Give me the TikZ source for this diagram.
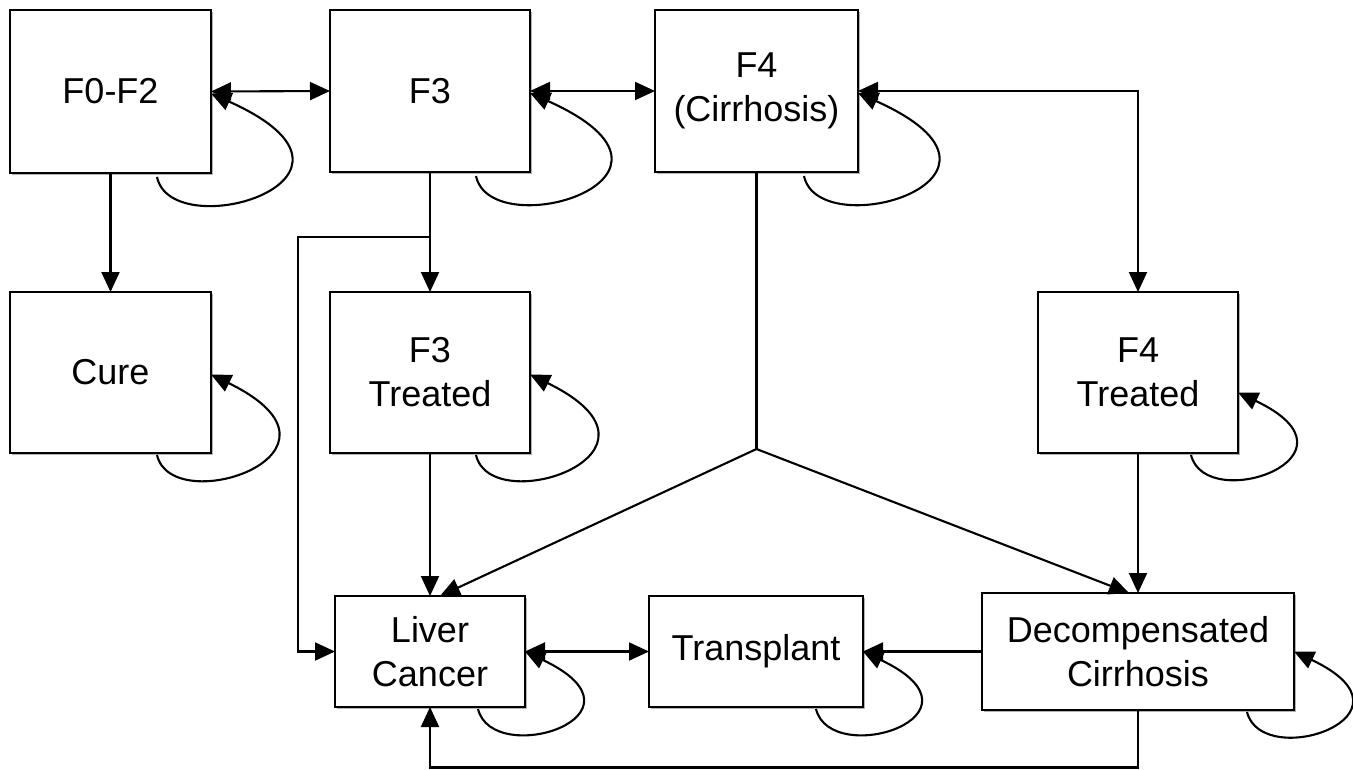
\documentclass[tikz,border=0pt]{standalone}
\usepackage{fontspec}
\setmainfont{Liberation Sans}
\usetikzlibrary{arrows.meta,shadows}
\tikzset{
  box/.style={draw=black, line width=2.6pt, fill=white, outer sep=0pt, inner sep=0pt,
    align=center, font=\fontsize{36}{44}\selectfont,
    drop shadow={shadow xshift=2pt, shadow yshift=-2pt, opacity=0.3, fill=black}},
  conn/.style={line width=2.1pt, -{Triangle[length=20pt,width=18pt]}},
  biconn/.style={line width=2.1pt, {Triangle[length=20pt,width=18pt]}-{Triangle[length=20pt,width=18pt]}},
  plain/.style={line width=2.1pt},
}
\newcommand{\loopBig}[1]{\draw[conn] ([xshift=-54pt,yshift=-4pt]#1.south east) .. controls +(15,-70) and +(190,-85) .. ([yshift=-2pt]#1.east);}
\newcommand{\loopMed}[1]{\draw[conn] ([xshift=-54pt,yshift=-2pt]#1.south east) .. controls +(15,-65) and +(160,-78) .. ([yshift=-2pt]#1.east);}
\newcommand{\loopSmall}[2]{\draw[conn] ([xshift=-47pt,yshift=-2pt]#1.south east) .. controls +(15,-60) and +(135,-64) .. ([yshift=#2]#1.east);}
\begin{document}
\begin{tikzpicture}[x=1pt,y=1pt]
\useasboundingbox (0,0) rectangle (1353,-769);
% nodes
\node[box, minimum width=201pt, minimum height=163pt] (F02) at (110.5,-91.5) {F0-F2};
\node[box, minimum width=200pt, minimum height=162pt] (F3) at (430,-91) {F3};
\node[box, minimum width=203pt, minimum height=162pt] (F4) at (756.5,-91) {F4\\(Cirrhosis)};
\node[box, minimum width=201pt, minimum height=161pt] (Cure) at (110.5,-372.5) {Cure};
\node[box, minimum width=200pt, minimum height=161pt] (F3T) at (430,-372.5) {F3\\Treated};
\node[box, minimum width=200pt, minimum height=161pt] (F4T) at (1138,-372.5) {F4\\Treated};
\node[box, minimum width=190pt, minimum height=111pt] (LC) at (430,-651.5) {Liver\\Cancer};
\node[box, minimum width=214pt, minimum height=111pt] (TP) at (756,-651.5) {Transplant};
\node[box, minimum width=312pt, minimum height=117pt] (Dec) at (1138,-651.5) {Decompensated\\Cirrhosis};
% helper coordinates
\coordinate (br) at (430,-237);
\coordinate (bl) at (298,-237);
\coordinate (jn) at (756.5,-449);
\coordinate (bb) at (1138,-767.5);
% connectors
\draw[biconn] (F02.east) -- (F3.west);
\draw[biconn] (F3.east) -- (F4.west);
\draw[biconn] (F4.east) -| (F4T.north);
\draw[conn] (F02.south) -- (Cure.north);
\draw[conn] (F3.south) -- (F3T.north);
\draw[conn] (br) -- (bl) |- (LC.west);
\draw[conn] (F3T.south) -- (LC.north);
\draw[plain] (F4.south) -- (jn);
\draw[conn] (jn) -- ([xshift=10pt]LC.north);
\draw[conn] (jn) -- ([xshift=-9pt]Dec.north);
\draw[conn] (F4T.south) -- (Dec.north);
\draw[biconn] (LC.east) -- (TP.west);
\draw[conn] (Dec.west) -- (TP.east);
\draw[conn] (Dec.south) -- (bb) -| (LC.south);
% self loops
\loopBig{F02}
\loopBig{F3}
\loopBig{F4}
\loopMed{Cure}
\loopMed{F3T}
\loopSmall{F4T}{-20pt}
\loopSmall{LC}{0pt}
\loopSmall{TP}{0pt}
\loopSmall{Dec}{0pt}
\end{tikzpicture}
\end{document}
